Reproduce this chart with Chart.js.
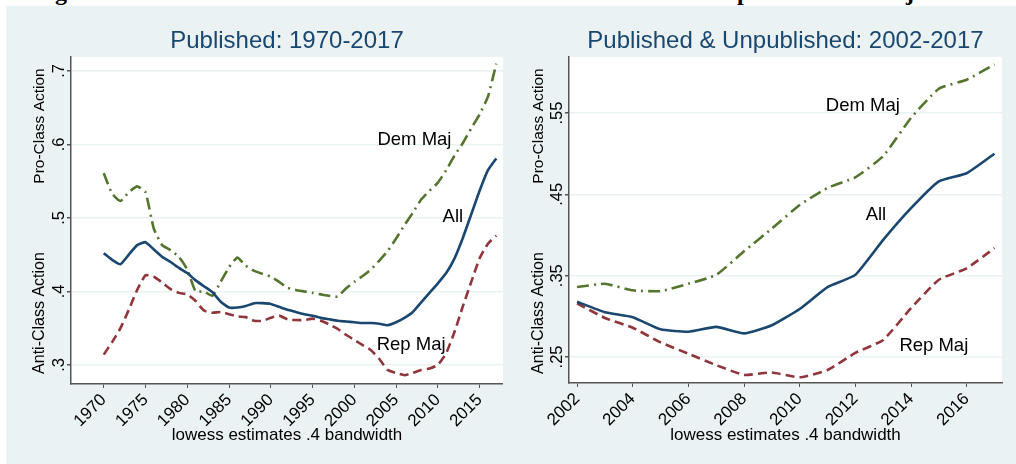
<!DOCTYPE html>
<html>
<head>
<meta charset="utf-8">
<script src="https://cdn.jsdelivr.net/npm/chart.js@4.4.1/dist/chart.umd.min.js"></script>
<style>
  html, body { margin: 0; padding: 0; background: #fff; width: 1016px; height: 464px; overflow: hidden; }
  #bg { position: absolute; left: 6px; top: 6px; width: 1010px; height: 458px; background: #eaf2f3; }
  .cap { position: absolute; top: -20px; font: bold 24px "Liberation Serif", serif; line-height: 24px; color: #000; }
  #c1 { position: absolute; left: 6px; top: 6px; }
  #c2 { position: absolute; left: 503px; top: 6px; }
</style>
</head>
<body>
<div id="bg"></div>
<span class="cap" style="left:55px">g</span>
<span class="cap" style="left:737px">p</span>
<span class="cap" style="left:906px">j</span>
<canvas id="c1" width="497" height="458" style="width:497px;height:458px"></canvas>
<canvas id="c2" width="513" height="458" style="width:513px;height:458px"></canvas>
<script>
// ---- data: published 1970-2017 ----
const yearsPub = [1970, 1971, 1972, 1973, 1974, 1975, 1976, 1977, 1978, 1979,
  1980, 1981, 1982, 1983, 1984, 1985, 1986, 1987, 1988, 1989,
  1990, 1991, 1992, 1993, 1994, 1995, 1996, 1997, 1998, 1999,
  2000, 2001, 2002, 2003, 2004, 2005, 2006, 2007, 2008, 2009,
  2010, 2011, 2012, 2013, 2014, 2015, 2016, 2017];
const allPub = [.452, .443, .437, .450, .463, .467, .457, .447, .440, .432,
  .425, .415, .407, .399, .386, .378, .378, .380, .384, .384,
  .383, .379, .375, .372, .369, .367, .364, .362, .360, .359,
  .358, .357, .357, .356, .354, .358, .364, .372, .385, .398,
  .411, .425, .445, .473, .505, .537, .565, .581];
const demPub = [.561, .533, .523, .535, .543, .535, .485, .463, .456, .447,
  .430, .400, .400, .394, .413, .433, .446, .435, .428, .424,
  .420, .413, .405, .402, .400, .398, .396, .394, .393, .404,
  .413, .421, .430, .442, .455, .472, .490, .507, .525, .537,
  .548, .565, .585, .602, .622, .641, .665, .710];
const repPub = [.314, .331, .350, .375, .402, .422, .420, .412, .403, .398,
  .396, .387, .374, .371, .372, .369, .366, .365, .360, .360,
  .364, .367, .362, .361, .361, .363, .360, .355, .349, .341,
  .334, .327, .320, .308, .293, .289, .286, .289, .293, .295,
  .300, .316, .345, .380, .413, .445, .465, .476];
const xTicksPub = [1970, 1975, 1980, 1985, 1990, 1995, 2000, 2005, 2010, 2015];
const yTicksPub = [.3, .4, .5, .6, .7];

// ---- data: published & unpublished 2002-2017 ----
const yearsAll = [2002, 2003, 2004, 2005, 2006, 2007, 2008, 2009,
  2010, 2011, 2012, 2013, 2014, 2015, 2016, 2017];
const allAll = [.318, .305, .299, .284, .281, .287, .279, .289,
  .309, .336, .351, .394, .433, .466, .476, .500];
const demAll = [.336, .340, .332, .331, .340, .351, .380, .408,
  .437, .458, .471, .497, .544, .580, .591, .610];
const repAll = [.316, .298, .286, .268, .254, .240, .228, .231,
  .225, .234, .255, .271, .310, .345, .359, .384];
const xTicksAll = [2002, 2004, 2006, 2008, 2010, 2012, 2014, 2016];
const yTicksAll = [.25, .35, .45, .55];

const seriesNames = ["All", "Dem Maj", "Rep Maj"];

const NAVY = "#1a476f";
const GREEN = "#55752f";
const MAROON = "#90353b";
const FONT = '"Liberation Sans", Arial, sans-serif';

function pts(xs, ys) {
  return xs.map((x, i) => ({ x: x, y: ys[i] }));
}

function fmtTick(v) {
  return String(+v.toFixed(2)).replace(/^0/, "");
}

function decor(opt) {
  return {
    id: "decor",
    beforeDraw(chart) {
      const { ctx, chartArea: a } = chart;
      ctx.save();
      ctx.fillStyle = "#fff";
      ctx.fillRect(a.left, a.top, a.right - a.left, a.bottom - a.top);
      ctx.restore();
    },
    afterDraw(chart) {
      const { ctx, chartArea: a, scales } = chart;
      const xs = scales.x, ys = scales.y;
      const cx = (a.left + a.right) / 2;
      ctx.save();
      // title
      ctx.fillStyle = NAVY;
      ctx.font = "24px " + FONT;
      ctx.textAlign = "center";
      ctx.textBaseline = "alphabetic";
      ctx.fillText(opt.title, cx, 42);
      // y tick labels, vertical
      ctx.fillStyle = "#000";
      ctx.font = "16.5px " + FONT;
      ys.ticks.forEach(t => {
        ctx.save();
        ctx.translate(a.left - 7, ys.getPixelForValue(t.value));
        ctx.rotate(-Math.PI / 2);
        ctx.fillText(fmtTick(t.value), 0, 0);
        ctx.restore();
      });
      // y axis titles
      [["Pro-Class Action", 120, 15.5], ["Anti-Class Action", 307, 16]].forEach(([s, y, size]) => {
        ctx.save();
        ctx.font = size + "px " + FONT;
        ctx.translate(opt.ytitleX, y);
        ctx.rotate(-Math.PI / 2);
        ctx.fillText(s, 0, 0);
        ctx.restore();
      });
      // x axis title
      ctx.font = "17px " + FONT;
      ctx.fillText("lowess estimates .4 bandwidth", cx, 434);
      // line labels
      ctx.font = "18.5px " + FONT;
      opt.labels.forEach((l, i) => {
        ctx.fillText(seriesNames[i], xs.getPixelForValue(l[0]), ys.getPixelForValue(l[1]));
      });
      ctx.restore();
    }
  };
}

function makeChart(id, o) {
  return new Chart(document.getElementById(id), {
    type: "line",
    data: {
      datasets: [
        { label: "All", data: pts(o.years, o.all), borderColor: NAVY, borderWidth: 2.6 },
        { label: "Dem Maj", data: pts(o.years, o.dem), borderColor: GREEN, borderWidth: 2.6, borderDash: [12, 5, 2, 5] },
        { label: "Rep Maj", data: pts(o.years, o.rep), borderColor: MAROON, borderWidth: 2.6, borderDash: [9, 5] }
      ]
    },
    options: {
      responsive: false,
      animation: false,
      elements: { point: { radius: 0 }, line: { tension: 0.15 } },
      layout: { padding: { top: 51, right: o.padRight, left: 0, bottom: 0 } },
      plugins: { legend: { display: false }, tooltip: { enabled: false } },
      scales: {
        x: {
          type: "linear",
          min: o.xmin, max: o.xmax,
          afterBuildTicks: s => { s.ticks = o.xticks.map(v => ({ value: v })); },
          afterFit: s => { s.height = o.xAxisH; },
          grid: { drawOnChartArea: false, tickColor: "#555", tickLength: 4 },
          border: { color: "#555", width: 1.5 },
          ticks: {
            minRotation: 45, maxRotation: 45, padding: 2,
            color: "#000", font: { family: FONT, size: 17 },
            callback: v => String(v)
          }
        },
        y: {
          min: o.ymin, max: o.ymax,
          afterBuildTicks: s => { s.ticks = o.yticks.map(v => ({ value: v })); },
          afterFit: s => { s.width = o.yAxisW; },
          grid: { color: "#eaf2f3", lineWidth: 1.5, tickColor: "#555", tickLength: 4 },
          border: { color: "#555", width: 1.5 },
          ticks: { display: false }
        }
      }
    },
    plugins: [decor(o)]
  });
}

makeChart("c1", {
  title: "Published: 1970-2017",
  years: yearsPub, all: allPub, dem: demPub, rep: repPub,
  xmin: 1966.08, xmax: 2017.8, ymin: .274, ymax: .719,
  xticks: xTicksPub, yticks: yTicksPub,
  padRight: 0, yAxisW: 65, xAxisH: 80, ytitleX: 38,
  labels: [[2011.8, .495], [2007.2, .599], [2006.8, .320]]
});

makeChart("c2", {
  title: "Published & Unpublished: 2002-2017",
  years: yearsAll, all: allAll, dem: demAll, rep: repAll,
  xmin: 2001.71, xmax: 2017.27, ymin: .218, ymax: .619,
  xticks: xTicksAll, yticks: yTicksAll,
  padRight: 14, yAxisW: 66, xAxisH: 81, ytitleX: 40,
  labels: [[2012.74, .418], [2012.27, .552], [2014.82, .257]]
});
</script>
</body>
</html>
